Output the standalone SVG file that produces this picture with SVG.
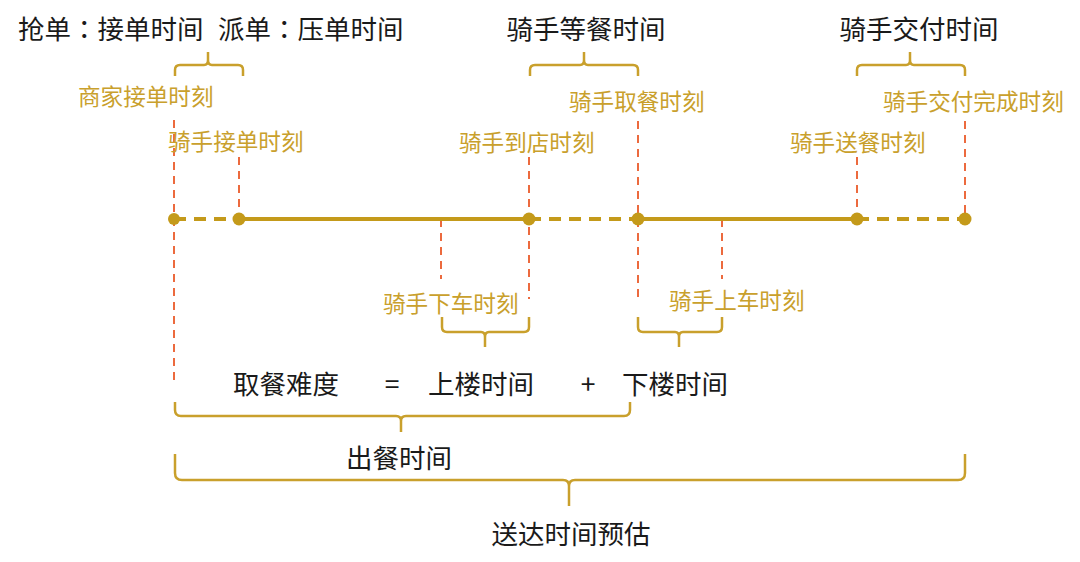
<svg xmlns="http://www.w3.org/2000/svg" width="1080" height="562" viewBox="0 0 1080 562">
<style>
text{font-family:"Noto Sans CJK SC","Noto Sans",sans-serif;dominant-baseline:central}
.b{font-size:26.5px;fill:#1a1a1a}
.g{font-size:22.6px;fill:#C9A02C}
.c{font-family:"Noto Sans CJK JP","Noto Sans CJK SC",sans-serif}
.tl{stroke:#C49A1A;stroke-width:4;fill:none}
.dash{stroke-dasharray:12 8}
.dot{fill:#C49A1A}
.red{stroke:#EC6A3E;stroke-width:2;stroke-dasharray:8 6;fill:none}
.br{stroke:#C9A02C;stroke-width:2.5;fill:none}
</style>
<rect width="1080" height="562" fill="#fff"/>
<g id="titles">
<text class="b" x="18" y="27">抢单<tspan class="c">：</tspan>接单时间</text>
<text class="b" x="218" y="27">派单<tspan class="c">：</tspan>压单时间</text>
<text class="b" x="586" y="27" text-anchor="middle">骑手等餐时间</text>
<text class="b" x="919" y="27" text-anchor="middle">骑手交付时间</text>
</g>
<g id="connectors">
<line class="red" x1="174" y1="120" x2="174" y2="380"/>
<line class="red" x1="239" y1="157" x2="239" y2="219"/>
<line class="red" x1="441" y1="219" x2="441" y2="279"/>
<line class="red" x1="529" y1="157" x2="529" y2="299"/>
<line class="red" x1="638" y1="121" x2="638" y2="299"/>
<line class="red" x1="722" y1="219" x2="722" y2="279"/>
<line class="red" x1="857" y1="157" x2="857" y2="219"/>
<line class="red" x1="965" y1="121" x2="965" y2="219"/>
</g>
<g id="timeline">
<line class="tl dash" x1="174" y1="219" x2="239" y2="219"/>
<line class="tl" x1="239" y1="219" x2="529" y2="219"/>
<line class="tl dash" x1="529" y1="219" x2="638" y2="219"/>
<line class="tl" x1="638" y1="219" x2="857" y2="219"/>
<line class="tl dash" x1="857" y1="219" x2="965" y2="219"/>
<circle class="dot" cx="174" cy="219" r="6"/>
<circle class="dot" cx="239" cy="219" r="6.5"/>
<circle class="dot" cx="529" cy="219" r="6.5"/>
<circle class="dot" cx="638" cy="219" r="6.5"/>
<circle class="dot" cx="857" cy="219" r="6.5"/>
<circle class="dot" cx="965" cy="219" r="6.5"/>
</g>
<g id="brackets">
<path class="br" d="M175,76 V70 Q175,65 180,65 H204 Q208,65 208,60 V52 M208,60 Q208,65 212,65 H238 Q243,65 243,70 V76"/>
<path class="br" d="M530,76 V70 Q530,65 535,65 H580 Q584,65 584,60 V52 M584,60 Q584,65 588,65 H633 Q638,65 638,70 V76"/>
<path class="br" d="M857,76 V70 Q857,65 862,65 H906 Q910,65 910,60 V52 M910,60 Q910,65 914,65 H960 Q965,65 965,70 V76"/>
<path class="br" d="M442,317 V327 Q442,332 447,332 H481 Q485,332 485,337 V347 M485,337 Q485,332 489,332 H524 Q529,332 529,327 V317"/>
<path class="br" d="M638,317 V327 Q638,332 643,332 H675 Q679,332 679,337 V347 M679,337 Q679,332 683,332 H717 Q722,332 722,327 V317"/>
<path class="br" d="M175,402 V410 Q175,416 181,416 H396 Q401,416 401,421 V432 M401,421 Q401,416 406,416 H624 Q630,416 630,410 V402"/>
<path class="br" d="M175,454 V473 Q175,480 182,480 H563 Q569,480 569,486 V506 M569,486 Q569,480 575,480 H958 Q965,480 965,473 V454"/>
</g>
<g id="labels">
<text class="g" x="78" y="95">商家接单时刻</text>
<text class="g" x="168" y="140">骑手接单时刻</text>
<text class="g" x="569" y="100">骑手取餐时刻</text>
<text class="g" x="459" y="141">骑手到店时刻</text>
<text class="g" x="883" y="100">骑手交付完成时刻</text>
<text class="g" x="790" y="141">骑手送餐时刻</text>
<text class="g" x="383" y="302">骑手下车时刻</text>
<text class="g" x="669" y="299">骑手上车时刻</text>
</g>
<g id="formula">
<text class="b" x="233" y="382">取餐难度</text>
<text class="b" x="392" y="382" text-anchor="middle">=</text>
<text class="b" x="428" y="382">上楼时间</text>
<text class="b" x="588" y="382" text-anchor="middle">+</text>
<text class="b" x="622" y="382">下楼时间</text>
<text class="b" x="399" y="456" text-anchor="middle">出餐时间</text>
<text class="b" x="571" y="532" text-anchor="middle">送达时间预估</text>
</g>
</svg>
